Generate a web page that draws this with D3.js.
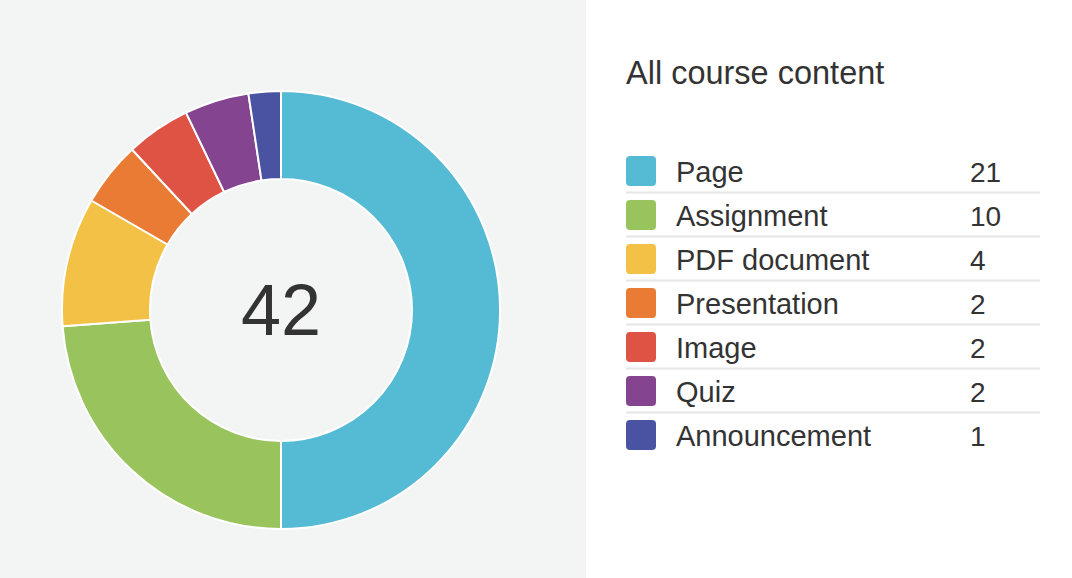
<!DOCTYPE html>
<html>
<head>
<meta charset="utf-8">
<script src="https://cdn.jsdelivr.net/npm/d3@7"></script>
<style>
  html, body { margin: 0; padding: 0; background: #ffffff; }
  svg { display: block; font-family: "Liberation Sans", Arial, Helvetica, sans-serif; }
</style>
</head>
<body>
<svg id="chart" width="1072" height="578"></svg>
<script>
const categories = ["Page", "Assignment", "PDF document", "Presentation", "Image", "Quiz", "Announcement"];
const values = [21, 10, 4, 2, 2, 2, 1];
const colors = ["#55bad4", "#99c35d", "#f3c145", "#ea7b34", "#df5345", "#84448f", "#4953a1"];
const title = "All course content";

const svg = d3.select("#chart");
const W = 1072, H = 578;

svg.append("rect").attr("x", 0).attr("y", 0).attr("width", 586).attr("height", H).attr("fill", "#f3f5f4");
svg.append("rect").attr("x", 586).attr("y", 0).attr("width", W - 586).attr("height", H).attr("fill", "#ffffff");

const data = categories.map((c, i) => ({ name: c, value: values[i], color: colors[i] }));
const total = d3.sum(values);

const cx = 281, cy = 310, outerR = 219, innerR = 131;
const pie = d3.pie().sort(null).value(d => d.value);
const arc = d3.arc().innerRadius(innerR).outerRadius(outerR);

const g = svg.append("g").attr("transform", `translate(${cx},${cy})`);
g.selectAll("path").data(pie(data)).join("path")
  .attr("d", arc)
  .attr("fill", d => d.data.color)
  .attr("stroke", "#ffffff")
  .attr("stroke-width", 2)
  .attr("stroke-linejoin", "round");

g.append("text")
  .attr("x", 0).attr("y", 0)
  .attr("dy", "0.35em")
  .attr("text-anchor", "middle")
  .attr("font-size", 72)
  .attr("fill", "#333333")
  .text(total);

// Legend
const lx = 626, top0 = 156, rowH = 44;
svg.append("text")
  .attr("x", lx).attr("y", 84)
  .attr("font-size", 32.5)
  .attr("fill", "#333333")
  .text(title);

const y = d3.scaleBand().domain(categories).range([top0 - 7, top0 - 7 + rowH * categories.length]).padding(0);

const rows = svg.append("g").selectAll("g").data(data).join("g")
  .attr("transform", d => `translate(0,${y(d.name)})`);

rows.append("rect")
  .attr("x", lx).attr("y", 7)
  .attr("width", 30).attr("height", 30)
  .attr("rx", 4).attr("ry", 4)
  .attr("fill", d => d.color);

rows.append("text")
  .attr("x", 676).attr("y", 33)
  .attr("font-size", 29)
  .attr("fill", "#333333")
  .text(d => d.name);

rows.append("text")
  .attr("x", 970).attr("y", 33)
  .attr("font-size", 28)
  .attr("fill", "#333333")
  .text(d => d.value);

rows.filter((d, i) => i < categories.length - 1).append("line")
  .attr("x1", lx).attr("x2", 1040)
  .attr("y1", 43.5).attr("y2", 43.5)
  .attr("stroke", "#e6e6e6")
  .attr("stroke-width", 2);
</script>
</body>
</html>
